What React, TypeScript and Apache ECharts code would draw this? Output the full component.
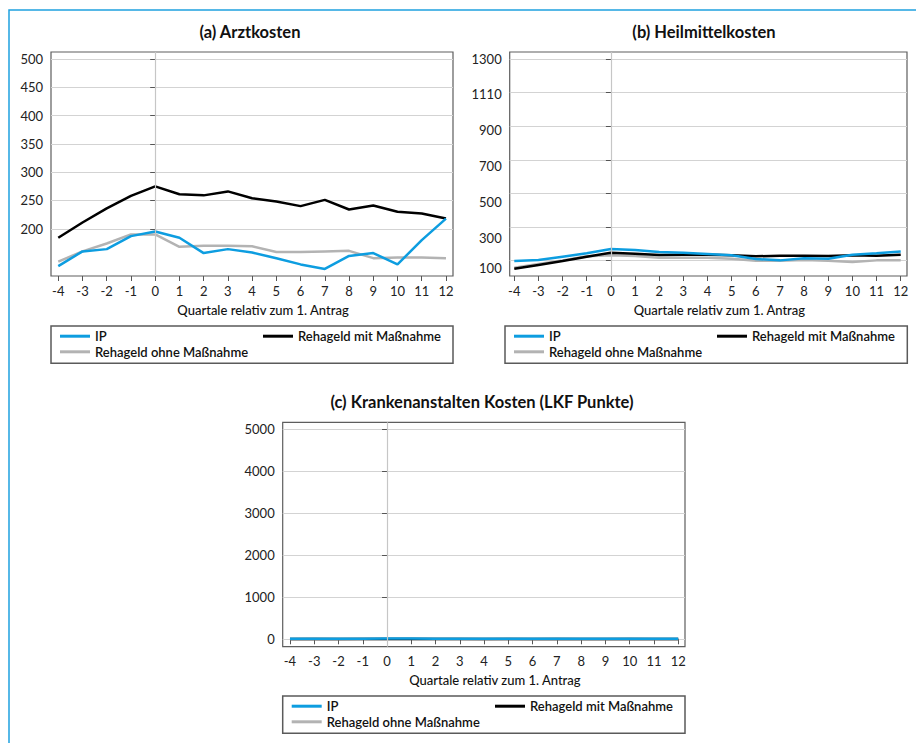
import React, { useEffect, useRef } from "react";
import * as echarts from "echarts";

// ---------- data ----------
const quarters = [-4, -3, -2, -1, 0, 1, 2, 3, 4, 5, 6, 7, 8, 9, 10, 11, 12];

const SERIES_IP = "IP";
const SERIES_MIT = "Rehageld mit Maßnahme";
const SERIES_OHNE = "Rehageld ohne Maßnahme";

// (a) Arztkosten
const arztIP = [134, 160, 164, 187, 195, 184, 157, 164, 158, 148, 137, 129, 152, 157, 137, 180, 218];
const arztMit = [184, 211, 236, 258, 275, 261, 259, 266, 254, 248, 240, 251, 234, 241, 230, 227, 218];
const arztOhne = [142, 160, 174, 190, 190, 168, 170, 170, 169, 159, 159, 160, 161, 148, 149, 149, 148];
const arztTicks = [200, 250, 300, 350, 400, 450, 500];

// (b) Heilmittelkosten
const heilIP = [99, 104, 124, 144, 170, 164, 152, 148, 140, 132, 110, 102, 114, 112, 136, 144, 155];
const heilMit = [52, 75, 98, 124, 148, 142, 134, 136, 136, 132, 126, 130, 130, 128, 132, 130, 135];
const heilOhne = [58, 80, 102, 126, 132, 128, 118, 118, 118, 112, 100, 100, 104, 100, 92, 102, 102];
const heilTicks = [100, 300, 500, 700, 900, 1100, 1300];
const heilLabelValues = [1300, 1090, 876, 663, 449, 233, 58];
const heilLabelTexts = ["1300", "1110", "900", "700", "500", "300", "100"];

// (c) Krankenanstalten Kosten (LKF Punkte)
const krankIP = [16, 15, 14, 16, 18, 17, 16, 15, 16, 15, 14, 15, 14, 15, 16, 15, 14];
const krankMit = [7, 7, 6, 8, 9, 8, 8, 7, 7, 8, 7, 7, 6, 7, 7, 6, 7];
const krankOhne = [4, 5, 4, 5, 6, 5, 5, 5, 4, 5, 4, 5, 4, 4, 5, 4, 4];
const krankTicks = [0, 1000, 2000, 3000, 4000, 5000];

const titles = ["(a) Arztkosten", "(b) Heilmittelkosten", "(c) Krankenanstalten Kosten (LKF Punkte)"];
const xAxisTitle = "Quartale relativ zum 1. Antrag";

// ---------- styles ----------
const FONT = 'Lato, "Noto Sans", sans-serif';
const C_IP = "#0d9de0";
const C_MIT = "#000000";
const C_OHNE = "#b3b3b3";

type Panel = {
  grid: { left: number; top: number; width: number; height: number };
  xRange: [number, number];
  yRange: [number, number];
  yTicks: number[];
  yLabelValues: number[];
  yLabelTexts: string[];
  ip: number[];
  mit: number[];
  ohne: number[];
  title: string;
  titleX: number;
  titleY: number;
  legendBox: { x: number; y: number; w: number; h: number };
  legLeft1: number;
  legLeft2: number;
  legRow1: number;
  legRow2: number;
};

const panels: Panel[] = [
  {
    grid: { left: 51, top: 52, width: 402, height: 224 },
    xRange: [-4.3, 12.29],
    yRange: [116.5, 512.4],
    yTicks: arztTicks,
    yLabelValues: arztTicks,
    yLabelTexts: arztTicks.map(String),
    ip: arztIP,
    mit: arztMit,
    ohne: arztOhne,
    title: titles[0],
    titleX: 250,
    titleY: 23,
    legendBox: { x: 51, y: 326, w: 402, h: 37.3 },
    legLeft1: 60,
    legLeft2: 263,
    legRow1: 337.7,
    legRow2: 353.3,
  },
  {
    grid: { left: 509.7, top: 52, width: 397.3, height: 224 },
    xRange: [-4.19, 12.26],
    yRange: [9, 1342],
    yTicks: heilTicks,
    yLabelValues: heilLabelValues,
    yLabelTexts: heilLabelTexts,
    ip: heilIP,
    mit: heilMit,
    ohne: heilOhne,
    title: titles[1],
    titleX: 704,
    titleY: 23,
    legendBox: { x: 505, y: 326, w: 402.3, h: 37.3 },
    legLeft1: 514,
    legLeft2: 717,
    legRow1: 337.7,
    legRow2: 353.3,
  },
  {
    grid: { left: 282.7, top: 422.3, width: 402.3, height: 224.4 },
    xRange: [-4.3, 12.28],
    yRange: [-176, 5167],
    yTicks: krankTicks,
    yLabelValues: krankTicks,
    yLabelTexts: krankTicks.map(String),
    ip: krankIP,
    mit: krankMit,
    ohne: krankOhne,
    title: titles[2],
    titleX: 482,
    titleY: 393,
    legendBox: { x: 282.7, y: 696, w: 402.3, h: 37.3 },
    legLeft1: 291.7,
    legLeft2: 495,
    legRow1: 707.7,
    legRow2: 723.3,
  },
];

function buildOption(): echarts.EChartsOption {
  const grid: any[] = [];
  const xAxis: any[] = [];
  const yAxis: any[] = [];
  const series: any[] = [];
  const title: any[] = [];
  const legend: any[] = [];
  const graphic: any[] = [];

  const legendCommon = {
    padding: 0,
    icon: "rect",
    itemWidth: 30,
    itemHeight: 3,
    itemGap: 0,
    selectedMode: false,
    textStyle: { fontSize: 13, fontWeight: 600, fontFamily: FONT, color: "#111" },
  };

  panels.forEach((p, i) => {
    grid.push({
      left: p.grid.left,
      top: p.grid.top,
      width: p.grid.width,
      height: p.grid.height,
      show: true,
      borderColor: "#5e5e5e",
      borderWidth: 1.2,
      backgroundColor: "transparent",
      containLabel: false,
    });
    xAxis.push({
      type: "value",
      gridIndex: i,
      min: p.xRange[0],
      max: p.xRange[1],
      axisLine: { show: false },
      axisTick: { show: true, length: 5, customValues: quarters, lineStyle: { color: "#555", width: 1 } },
      axisLabel: {
        customValues: quarters,
        margin: 8,
        color: "#222",
        fontSize: 13,
        fontFamily: FONT,
        formatter: (v: number) => String(v),
      },
      splitLine: { show: false },
      name: xAxisTitle,
      nameLocation: "middle",
      nameGap: 27,
      nameTextStyle: {
        fontSize: 13,
        fontWeight: 500,
        fontFamily: FONT,
        color: "#111",
        padding: [0, 0, 0, 22],
      },
    });
    const labelMap: Record<string, string> = {};
    p.yLabelValues.forEach((v, k) => (labelMap[String(v)] = p.yLabelTexts[k]));
    yAxis.push({
      type: "value",
      gridIndex: i,
      min: p.yRange[0],
      max: p.yRange[1],
      axisLine: { show: false },
      axisTick: { show: true, length: 5, customValues: p.yTicks, lineStyle: { color: "#555", width: 1 } },
      axisLabel: {
        customValues: p.yLabelValues,
        margin: 8,
        color: "#222",
        fontSize: 13,
        fontFamily: FONT,
        formatter: (v: number) => labelMap[String(v)] ?? String(v),
      },
      splitLine: { show: true, lineStyle: { color: "#d3d3d3", width: 1.2 } },
    });

    const pairs = (arr: number[]) => quarters.map((q, k) => [q, arr[k]]);
    series.push({
      type: "line",
      name: SERIES_OHNE,
      xAxisIndex: i,
      yAxisIndex: i,
      data: pairs(p.ohne),
      symbol: "none",
      color: C_OHNE,
      itemStyle: { color: C_OHNE },
      lineStyle: { color: C_OHNE, width: 2.5 },
      z: 2,
      silent: true,
      markLine: {
        silent: true,
        symbol: ["none", "none"],
        label: { show: false },
        lineStyle: { color: "#c6c6c6", width: 1.2, type: "solid" },
        data: [{ xAxis: 0 }],
      },
    });
    series.push({
      type: "line",
      name: SERIES_MIT,
      xAxisIndex: i,
      yAxisIndex: i,
      data: pairs(p.mit),
      symbol: "none",
      color: C_MIT,
      itemStyle: { color: C_MIT },
      lineStyle: { color: C_MIT, width: 2.5 },
      z: 3,
      silent: true,
    });
    series.push({
      type: "line",
      name: SERIES_IP,
      xAxisIndex: i,
      yAxisIndex: i,
      data: pairs(p.ip),
      symbol: "none",
      color: C_IP,
      itemStyle: { color: C_IP },
      lineStyle: { color: C_IP, width: 2.5 },
      z: 4,
      silent: true,
    });

    title.push({
      text: p.title,
      left: p.titleX,
      top: p.titleY,
      textAlign: "center",
      padding: 0,
      textStyle: { fontSize: 16.5, fontWeight: "bold", fontFamily: FONT, color: "#111" },
    });

    legend.push({ ...legendCommon, data: [SERIES_IP], left: p.legLeft1, top: p.legRow1 - 8 });
    legend.push({ ...legendCommon, data: [SERIES_MIT], left: p.legLeft2, top: p.legRow1 - 8 });
    legend.push({ ...legendCommon, data: [SERIES_OHNE], left: p.legLeft1, top: p.legRow2 - 8 });

    graphic.push({
      type: "rect",
      silent: true,
      shape: { x: p.legendBox.x, y: p.legendBox.y, width: p.legendBox.w, height: p.legendBox.h },
      style: { fill: "none", stroke: "#5a5a5a", lineWidth: 1.5 },
    });
  });

  graphic.push({
    type: "polyline",
    silent: true,
    shape: { points: [[9, 743], [9, 10], [916, 10]] },
    style: { fill: "none", stroke: "#1fa1e0", lineWidth: 1.5 },
  });

  return {
    animation: false,
    backgroundColor: "#ffffff",
    title,
    legend,
    grid,
    xAxis,
    yAxis,
    series,
    graphic,
  } as echarts.EChartsOption;
}

export default function App() {
  const ref = useRef<HTMLDivElement>(null);
  useEffect(() => {
    if (!ref.current) return;
    const chart = echarts.init(ref.current, undefined, { renderer: "svg" });
    chart.setOption(buildOption());
    return () => chart.dispose();
  }, []);
  return (
    <div
      ref={ref}
      style={{ position: "absolute", left: 0, top: 0, width: 916, height: 743 }}
    />
  );
}
